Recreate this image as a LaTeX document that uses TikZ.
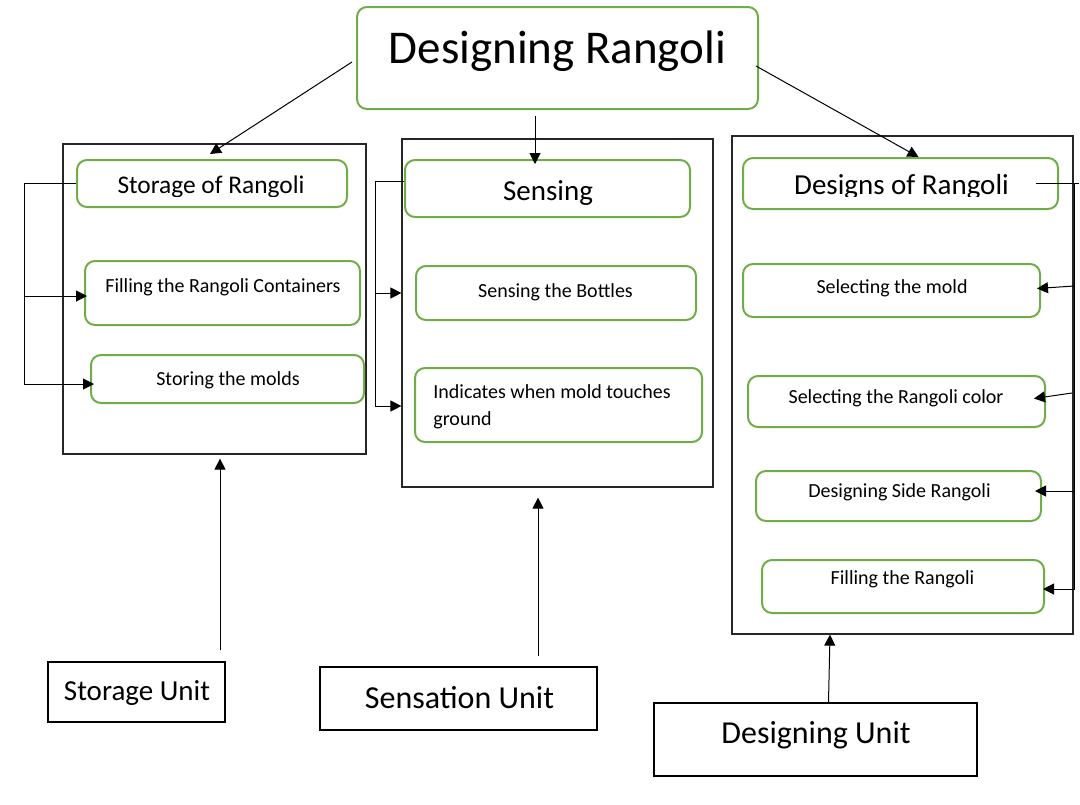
\documentclass[tikz,border=0pt]{standalone}
\usepackage{fontspec}
\setmainfont{Carlito}
\usetikzlibrary{arrows.meta,fit,calc}
\definecolor{gr}{HTML}{70AD47}
\begin{document}
\begin{tikzpicture}[x=0.5pt,y=-0.5pt,
  gbox/.style={draw=gr,line width=1pt,rounded corners=5pt,inner sep=0pt},
  frame/.style={draw=black!85,line width=0.6pt,inner sep=0pt},
  ubox/.style={draw=black,line width=1pt,inner sep=0pt},
  arr/.style={-{Triangle[length=5.5pt,width=5.5pt]},line width=0.5pt},
  ln/.style={line width=0.5pt},
  txt/.style={anchor=base,inner sep=0pt,font=\fontsize{10}{12}\selectfont},
  big/.style={txt,font=\fontsize{14.5}{17}\selectfont},
]
\useasboundingbox (0,0) rectangle (1080,804);

% title
\node[gbox,fit={(357,7)(758,109)}] (top) {};
\node[txt,font=\fontsize{23.5}{28}\selectfont] (topt) at (557.5,63) {Designing Rangoli};

% frames
\node[frame,fit={(63,144)(366,454)}] (fS) {};
\node[frame,fit={(402,139)(713,487)}] (fM) {};
\node[frame,fit={(732,136)(1073,634)}] (fR) {};

% storage boxes
\node[gbox,fit={(77,160)(347,207)}] (s1) {};
\node[gbox,fit={(85,261)(360,325)}] (s2) {};
\node[gbox,fit={(91,355)(364,403)}] (s3) {};
% sensing boxes
\node[gbox,fit={(405,160)(690,217)}] (m1) {};
\node[gbox,fit={(416,266)(696,320)}] (m2) {};
\node[gbox,fit={(415,368)(702,442)}] (m3) {};
% design boxes
\node[gbox,fit={(743,158)(1058,209)}] (r1) {};
\node[gbox,fit={(743,264)(1040,317)}] (r2) {};
\node[gbox,fit={(748,376)(1045,427)}] (r3) {};
\node[gbox,fit={(756,471)(1041,521)}] (r4) {};
\node[gbox,fit={(762,560)(1044,613)}] (r5) {};

% unit boxes
\node[ubox,fit={(48,662)(225,722)}] (u1) {};
\node[ubox,fit={(320,667)(597,730)}] (u2) {};
\node[ubox,fit={(654,703)(977,776)}] (u3) {};

% texts
\begin{scope}
\clip (0,0) rectangle (1080,196.5);
\node[txt,font=\fontsize{12.7}{15}\selectfont] (s1t) at (211,193) {Storage of Rangoli};
\node[big] (r1t) at (901.5,194) {Designs of Rangoli};
\end{scope}
\node[txt] (s2t) at (223,292) {Filling the Rangoli Containers};
\node[txt] (s3t) at (228,385) {Storing the molds};
\node[big] (m1t) at (548,200) {Sensing};
\node[txt] (m2t) at (555.5,297) {Sensing the Bottles};
\node[txt,anchor=base west] (m3t) at (433,398) {Indicates when mold touches};
\node[txt,anchor=base west] (m3u) at (433,425) {ground};
\node[txt] (r2t) at (892,293) {Selecting the mold};
\node[txt] (r3t) at (896,403) {Selecting the Rangoli color};
\node[txt] (r4t) at (899.5,497) {Designing Side Rangoli};
\node[txt] (r5t) at (902.5,584) {Filling the Rangoli};
\node[big] (u1t) at (137,700) {Storage Unit};
\node[txt,font=\fontsize{16}{19}\selectfont] (u2t) at (459.5,708) {Sensation Unit};
\node[txt,font=\fontsize{16}{19}\selectfont] (u3t) at (816,743) {Designing Unit};

% top arrows
\draw[arr] ($(top.west)+(-4,4)$) -- ($(s1.north)+(-2,-5)$);
\draw[arr] ($(top.south)+(-22.5,6)$) -- ($(m1.north)+(-12.5,5)$);
\draw[arr] ($(top.east)+(-3,8)$) -- ($(r1.north)+(18,0)$);

% storage bus
\draw[ln] (s1.west) -- ++(-52,0) coordinate (bS) -- (bS |- 0,384);
\draw[arr] (bS |- 0,296) -- ($(s2.west)+(3,3)$);
\draw[arr] (bS |- 0,384) -- ($(s3.west)+(4,5)$);

% sensing bus
\draw[ln] ($(m1.west)+(0,-7)$) -- ++(-29,0) coordinate (bM) -- (bM |- 0,406);
\draw[arr] (bM |- 0,293) -- (fM.west |- 0,293);
\draw[arr] (bM |- 0,406) -- (fM.west |- 0,406);

% design bus
\draw[ln] ($(r1.east)+(-23,0)$) -- ++(43,0);
\draw[ln] ($(r1.east)+(15,0)$) coordinate (bR) -- (bR |- 0,590);
\draw[arr] (bR |- 0,286) -- ($(r2.east)+(-4,-2)$);
\draw[arr] ($(bR |- 0,393)+(-2,0)$) -- ($(r3.east)+(-12,-3)$);
\draw[arr] (bR |- 0,491) -- ($(r4.east)+(-7,-5)$);
\draw[arr] (bR |- 0,589) -- ($(r5.east)+(-2,2.5)$);

% unit arrows
\draw[arr] ($(u1.north)+(83.5,-11)$) -- ($(fS.south)+(5.5,4)$);
\draw[arr] ($(u2.north)+(79.5,-10)$) -- ($(fM.south)+(-19.5,10)$);
\draw[arr] ($(u3.north)+(13,0)$) -- ($(fR.south)+(-72.5,0)$);
\end{tikzpicture}
\end{document}
